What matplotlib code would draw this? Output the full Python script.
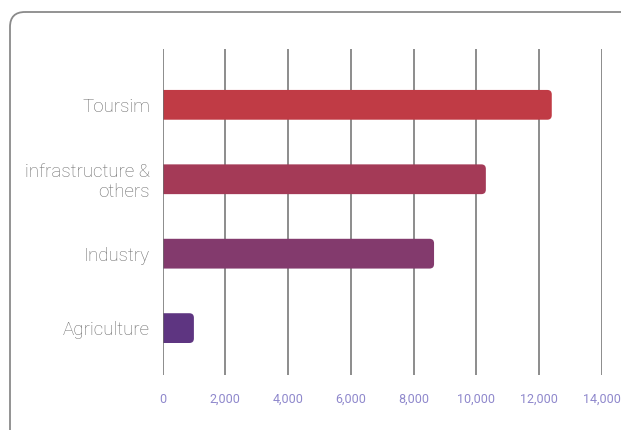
import matplotlib
matplotlib.use("Agg")
import matplotlib.pyplot as plt
from matplotlib.patches import FancyBboxPatch

categories = ["Toursim", "infrastructure &\nothers", "Industry", "Agriculture"]
values = [12400, 10300, 8650, 1000]
colors = ["#C03B45", "#A43A57", "#833A6D", "#5E3581"]
xticks = [0, 2000, 4000, 6000, 8000, 10000, 12000, 14000]
xtick_labels = ["0", "2,000", "4,000", "6,000", "8,000", "10,000", "12,000", "14,000"]

plt.rcParams["font.family"] = ["Roboto", "DejaVu Sans"]

W, H = 621, 430
fig = plt.figure(figsize=(W / 100, H / 100), dpi=100)

# outer rounded frame
frame_ax = fig.add_axes([0, 0, 1, 1])
frame_ax.set_xlim(0, W)
frame_ax.set_ylim(H, 0)
frame_ax.axis("off")
frame_ax.add_patch(FancyBboxPatch((10, 12), 640, 450,
                                  boxstyle="round,pad=0,rounding_size=15",
                                  fill=False, edgecolor="#8a8a8a", linewidth=1.3))

# plotting area in pixel terms
x0, x1 = 162.5, 602.0
y_top, y_bot = 49, 375
ax = fig.add_axes([x0 / W, 1 - y_bot / H, (x1 - x0) / W, (y_bot - y_top) / H])
ax.set_xlim(0, 14000)
ax.set_ylim(3.63, -0.75)

for s in ax.spines.values():
    s.set_visible(False)

# vertical grid lines
for t in xticks[1:]:
    ax.axvline(t, color="#6e6e6e", linewidth=1.1, zorder=0)
ax.axvline(0, color="#6e6e6e", linewidth=1.1, zorder=5)

bar_h = 0.40
px_x = 14000 / (x1 - x0)
px_y = (3.63 + 0.75) / (y_bot - y_top)
rr = 4.5 * px_x
for i, (v, c) in enumerate(zip(values, colors)):
    # rounded on the right; the left rounding falls outside the axes and is clipped
    ax.add_patch(FancyBboxPatch((-rr, i - bar_h / 2), v + rr, bar_h,
                                boxstyle=f"round,pad=0,rounding_size={rr}",
                                mutation_aspect=px_y / px_x,
                                facecolor=c, edgecolor="none", zorder=2))

ax.set_yticks(range(len(categories)))
ax.set_yticklabels(categories, fontsize=13.5, color="#6a6a6a", fontweight="light",
                   linespacing=1.12)
ax.tick_params(axis="y", length=0, pad=9)
ax.set_xticks(xticks)
ax.set_xticklabels(xtick_labels, fontsize=9, color="#8f88cc")
ax.tick_params(axis="x", length=0, pad=13)

fig.savefig("out.png", dpi=100)
